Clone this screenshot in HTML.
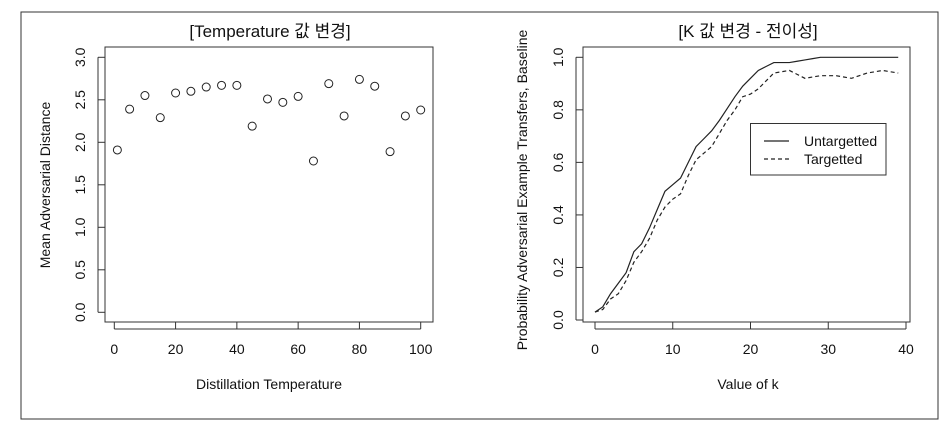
<!DOCTYPE html>
<html><head><meta charset="utf-8">
<style>
html,body{margin:0;padding:0;background:#fff;}
svg{display:block;font-family:"Liberation Sans","Noto Sans CJK KR",sans-serif;}
</style></head>
<body>
<svg id="chart" width="952" height="432" viewBox="0 0 952 432">
<rect x="21" y="12" width="917" height="407" fill="none" stroke="#333" stroke-width="1"/>
<g id="left"></g>
<g id="right"></g>
</svg>
<script>
const tempX = [1,5,10,15,20,25,30,35,40,45,50,55,60,65,70,75,80,85,90,95,100];
const tempY = [1.91,2.39,2.55,2.29,2.58,2.60,2.65,2.67,2.67,2.19,2.51,2.47,2.54,1.78,2.69,2.31,2.74,2.66,1.89,2.31,2.38];
const leftXTicks = [0,20,40,60,80,100];
const leftYTicks = ["0.0","0.5","1.0","1.5","2.0","2.5","3.0"];
const kValues = [0,1,2,3,4,5,6,7,8,9,10,11,12,13,14,15,16,17,18,19,20,21,22,23,24,25,26,27,28,29,30,31,32,33,34,35,36,37,38,39];
const untargetted = [0.03,0.05,0.10,0.14,0.18,0.26,0.29,0.35,0.42,0.49,0.515,0.54,0.60,0.66,0.69,0.72,0.76,0.805,0.85,0.89,0.92,0.95,0.965,0.98,0.98,0.98,0.985,0.99,0.995,1.0,1.0,1.0,1.0,1.0,1.0,1.0,1.0,1.0,1.0,1.0];
const targetted = [0.03,0.04,0.08,0.10,0.15,0.22,0.26,0.31,0.38,0.43,0.46,0.48,0.55,0.61,0.635,0.66,0.71,0.76,0.80,0.85,0.86,0.88,0.91,0.94,0.945,0.95,0.935,0.92,0.925,0.93,0.93,0.93,0.925,0.92,0.93,0.94,0.945,0.95,0.945,0.94];
const rightXTicks = [0,10,20,30,40];
const rightYTicks = ["0.0","0.2","0.4","0.6","0.8","1.0"];

const NS="http://www.w3.org/2000/svg";
function mk(parent,tag,attrs,text){const e=document.createElementNS(NS,tag);for(const k in attrs)e.setAttribute(k,attrs[k]);if(text!==undefined)e.textContent=text;parent.appendChild(e);return e;}

// Left panel
const L=document.getElementById('left');
const lx=v=>114.3+(v-0)*(420.7-114.3)/100;
const ly=v=>312.3-v*85;
let e;
e=mk(L,'rect',{x:105,y:47,width:328,height:275,fill:'none',stroke:'#333'});


e=mk(L,'text',{x:270,y:37,'text-anchor':'middle','font-size':17,fill:'#111'},'[Temperature 값 변경]');


leftXTicks.forEach(t=>{
  e=mk(L,'line',{x1:lx(t),x2:lx(t),y1:322,y2:329,stroke:'#333'});
  
  
  e=mk(L,'text',{x:lx(t),y:354,'text-anchor':'middle','font-size':14,fill:'#111'},String(t));
  
  
});
e=mk(L,'line',{x1:lx(0),x2:lx(100),y1:329,y2:329,stroke:'#333'});


leftYTicks.forEach(t=>{
  const y=ly(parseFloat(t));
  e=mk(L,'line',{x1:98,x2:105,y1:y,y2:y,stroke:'#333'});
  
  
  e=mk(L,'text',{x:85,y:y,'text-anchor':'middle','font-size':14,fill:'#111',transform:`rotate(-90 85 ${y})`},t);
  
  
});
e=mk(L,'line',{x1:98,x2:98,y1:ly(0),y2:ly(3),stroke:'#333'});


e=mk(L,'text',{x:269,y:389,'text-anchor':'middle','font-size':14,fill:'#111'},'Distillation Temperature');


e=mk(L,'text',{x:50,y:185,'text-anchor':'middle','font-size':14,fill:'#111',transform:'rotate(-90 50 185)'},'Mean Adversarial Distance');


tempX.forEach((x,i)=>{
  e=mk(L,'circle',{cx:lx(x),cy:ly(tempY[i]),r:4,fill:'none',stroke:'#222','stroke-width':1});
  
  
});

// Right panel
const R=document.getElementById('right');
const rx=v=>595+v*(906-595)/40;
const ry=v=>320-v*262.7;
e=mk(R,'rect',{x:583,y:47,width:327,height:275,fill:'none',stroke:'#333'});


e=mk(R,'text',{x:748,y:37,'text-anchor':'middle','font-size':17,fill:'#111'},'[K 값 변경 - 전이성]');


rightXTicks.forEach(t=>{
  e=mk(R,'line',{x1:rx(t),x2:rx(t),y1:322,y2:329,stroke:'#333'});
  
  
  e=mk(R,'text',{x:rx(t),y:354,'text-anchor':'middle','font-size':14,fill:'#111'},String(t));
  
  
});
e=mk(R,'line',{x1:rx(0),x2:rx(40),y1:329,y2:329,stroke:'#333'});


rightYTicks.forEach(t=>{
  const y=ry(parseFloat(t));
  e=mk(R,'line',{x1:576,x2:583,y1:y,y2:y,stroke:'#333'});
  
  
  e=mk(R,'text',{x:563,y:y,'text-anchor':'middle','font-size':14,fill:'#111',transform:`rotate(-90 563 ${y})`},t);
  
  
});
e=mk(R,'line',{x1:576,x2:576,y1:ry(0),y2:ry(1),stroke:'#333'});


e=mk(R,'text',{x:748,y:389,'text-anchor':'middle','font-size':14,fill:'#111'},'Value of k');


e=mk(R,'text',{x:527,y:190,'text-anchor':'middle','font-size':14,fill:'#111',transform:'rotate(-90 527 190)'},'Probability Adversarial Example Transfers, Baseline');


const ptsU=kValues.map((k,i)=>rx(k)+','+ry(untargetted[i])).join(' ');
e=mk(R,'polyline',{points:ptsU,fill:'none',stroke:'#222','stroke-width':1.2});


const ptsT=kValues.map((k,i)=>rx(k)+','+ry(targetted[i])).join(' ');
e=mk(R,'polyline',{points:ptsT,fill:'none',stroke:'#222','stroke-width':1.2,'stroke-dasharray':'4,3'});


// legend
const G=mk(R,'g',{});


mk(G,'rect',{x:750.5,y:123.5,width:135.5,height:51.5,fill:'#fff',stroke:'#333'});
e=mk(G,'line',{x1:764,x2:789,y1:141,y2:141,stroke:'#222','stroke-width':1.2});


e=mk(G,'text',{x:804,y:146,'font-size':14,fill:'#111'},'Untargetted');


e=mk(G,'line',{x1:764,x2:789,y1:159,y2:159,stroke:'#222','stroke-width':1.2,'stroke-dasharray':'4,3'});


e=mk(G,'text',{x:804,y:164,'font-size':14,fill:'#111'},'Targetted');


</script>
</body></html>
